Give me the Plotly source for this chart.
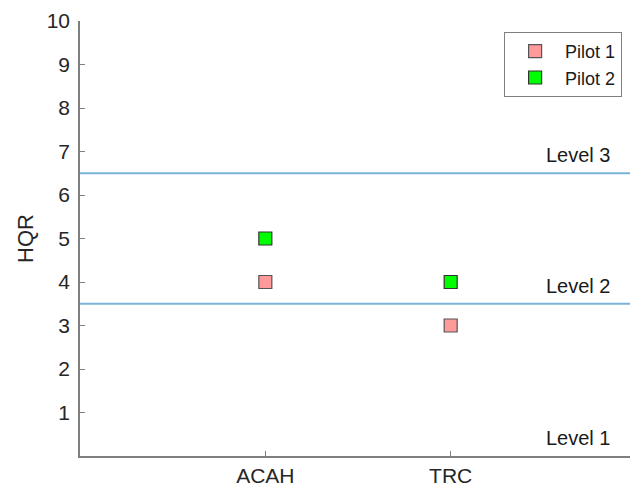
import plotly.graph_objects as go

categories = ["ACAH", "TRC"]
cat_pos = [1, 2]
pilot1 = [4, 3]
pilot2 = [5, 4]
level_bounds = [3.5, 6.5]
level_labels = ["Level 1", "Level 2", "Level 3"]
level_label_y = [0, 3.5, 6.5]

FONT = "Liberation Sans, Arial"

fig = go.Figure()
fig.add_trace(go.Scatter(x=cat_pos, y=pilot1, mode="markers", name="Pilot 1",
                         marker=dict(symbol="square", size=13, color="#ff9a9a",
                                     line=dict(color="#555555", width=1.2))))
fig.add_trace(go.Scatter(x=cat_pos, y=pilot2, mode="markers", name="Pilot 2",
                         marker=dict(symbol="square", size=13, color="#00ff00",
                                     line=dict(color="#333333", width=1.2))))

for b in level_bounds:
    fig.add_shape(type="line", xref="paper", x0=0, x1=1, yref="y", y0=b, y1=b,
                  line=dict(color="#7ab3da", width=2))

for lab, yv in zip(level_labels, level_label_y):
    fig.add_annotation(x=0.959, xref="paper", y=yv, yref="y", text=lab,
                       showarrow=False, xanchor="right", yanchor="middle", yshift=18,
                       font=dict(family=FONT, size=20, color="#1a1a1a"))

fig.update_layout(
    width=630, height=485,
    margin=dict(l=72, r=2, t=13, b=37),
    plot_bgcolor="white", paper_bgcolor="white",
    font=dict(family=FONT, size=20, color="#262626"),
    showlegend=True,
    legend=dict(x=0.975, y=0.975, xanchor="right", yanchor="top",
                bgcolor="white", bordercolor="#7f7f7f", borderwidth=1,
                font=dict(size=18, color="#1a1a1a"), itemwidth=50),
    xaxis=dict(range=[0, 3], tickmode="array", tickvals=cat_pos, ticktext=categories,
               showgrid=False, zeroline=False, showline=True, linecolor="#7f7f7f",
               linewidth=1.5, ticks="inside", ticklen=5, tickcolor="#7f7f7f",
               automargin=False, tickfont=dict(size=21), ticklabelstandoff=0,
               ticklabeloverflow="allow"),
    yaxis=dict(range=[0, 10], tickmode="array", tickvals=list(range(1, 11)),
               showgrid=False, zeroline=False, showline=True, linecolor="#7f7f7f",
               linewidth=1.5, ticks="inside", ticklen=5, tickcolor="#7f7f7f",
               automargin=False, tickfont=dict(size=21), ticklabelstandoff=4,
               ticklabeloverflow="allow",
               title=dict(text="HQR", font=dict(size=22, color="#262626"), standoff=7)),
)

fig.write_html("out.html")
